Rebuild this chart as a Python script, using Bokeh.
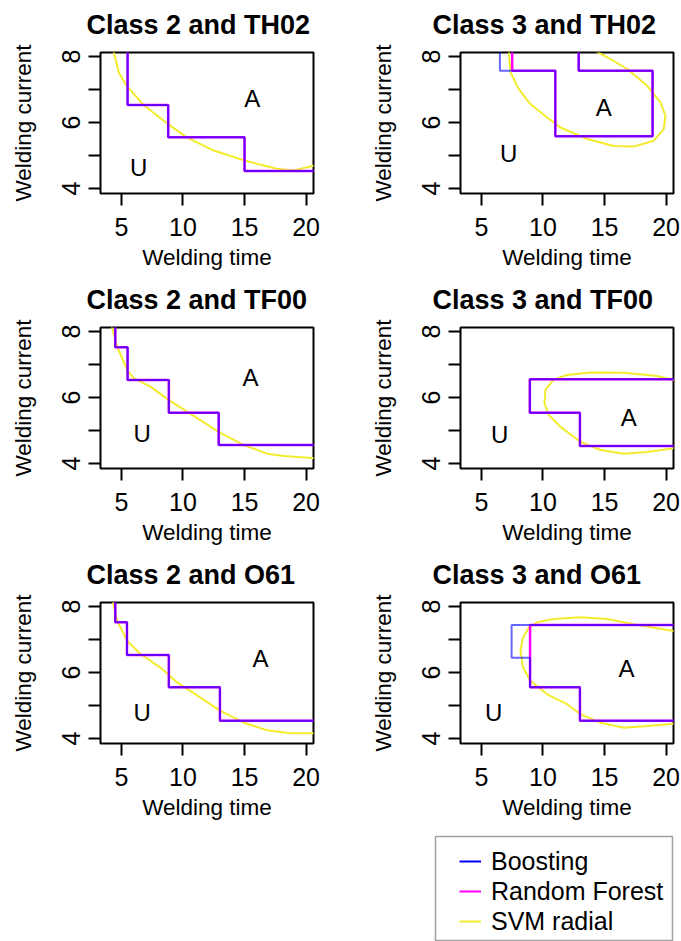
from bokeh.plotting import figure
from bokeh.models import Range1d, FixedTicker, Legend, LegendItem, Title
from bokeh.layouts import column, row
from bokeh.embed import file_html
from bokeh.resources import INLINE
from bokeh.core.properties import value

FONT = "Liberation Sans"

# ---------------- data ----------------
titles = ["Class 2 and TH02", "Class 3 and TH02",
          "Class 2 and TF00", "Class 3 and TF00",
          "Class 2 and O61", "Class 3 and O61"]
x_ticks = [5, 10, 15, 20]
y_ticks = [4, 5, 6, 7, 8]
y_tick_labels = {4: "4", 5: "", 6: "6", 7: "", 8: "8"}
x_label = "Welding time"
y_label = "Welding current"
legend_labels = ["Boosting", "Random Forest", "SVM radial"]
x_limits = [3.3, 20.6]
y_limits = [3.85, 8.12]

# Panel 1: Class 2 and TH02
boost_x_1 = [5.5, 5.5, 8.8, 8.8, 15.0, 15.0, 21.0]
boost_y_1 = [8.3, 6.53, 6.53, 5.55, 5.55, 4.53, 4.53]
rf_x_1 = [5.5, 5.5, 8.8, 8.8, 15.0, 15.0, 21.0]
rf_y_1 = [8.3, 6.53, 6.53, 5.55, 5.55, 4.53, 4.53]
svm_x_1 = [4.3, 4.37, 4.8, 5.45, 6.8, 8.8, 10.3, 12.5, 15.0, 17.6, 19.0, 20.6, 21.0]
svm_y_1 = [8.3, 8.14, 7.5, 7.1, 6.53, 5.95, 5.55, 5.15, 4.85, 4.6, 4.55, 4.69, 4.72]

# Panel 2: Class 3 and TH02
boost_x_2 = [6.5, 6.5, 11.0, 11.0, 18.9, 18.9, 12.9, 12.9]
boost_y_2 = [8.3, 7.57, 7.57, 5.58, 5.58, 7.57, 7.57, 8.3]
rf_x_2 = [7.5, 7.5, 11.0, 11.0, 18.9, 18.9, 12.9, 12.9]
rf_y_2 = [8.3, 7.57, 7.57, 5.58, 5.58, 7.57, 7.57, 8.3]
svm_x_2 = [7.15, 7.22, 7.36, 8.03, 8.98, 10.34, 11.42, 13.59, 15.75, 17.37, 19.0,
           19.81, 19.95, 19.54, 18.46, 16.84, 15.48, 14.4, 14.1]
svm_y_2 = [8.3, 8.14, 7.52, 7.01, 6.56, 6.15, 5.85, 5.5, 5.29, 5.27, 5.45,
           5.8, 6.2, 6.61, 7.11, 7.62, 7.92, 8.14, 8.3]

# Panel 3: Class 2 and TF00
boost_x_3 = [4.5, 4.5, 5.5, 5.5, 8.85, 8.85, 12.9, 12.9, 21.0]
boost_y_3 = [8.3, 7.52, 7.52, 6.53, 6.53, 5.54, 5.54, 4.56, 4.56]
rf_x_3 = [4.5, 4.5, 5.5, 5.5, 8.85, 8.85, 12.9, 12.9, 21.0]
rf_y_3 = [8.3, 7.52, 7.52, 6.53, 6.53, 5.54, 5.54, 4.56, 4.56]
svm_x_3 = [4.15, 4.24, 4.65, 5.46, 6.0, 7.36, 8.84, 10.33, 12.9, 14.94, 16.84, 18.19, 20.49, 21.0]
svm_y_3 = [8.3, 8.12, 7.54, 6.84, 6.58, 6.33, 5.92, 5.57, 4.96, 4.56, 4.30, 4.23, 4.17, 4.16]

# Panel 4: Class 3 and TF00
boost_x_4 = [21.0, 8.93, 8.93, 13.0, 13.0, 21.0]
boost_y_4 = [6.55, 6.55, 5.54, 5.54, 4.53, 4.53]
rf_x_4 = [21.0, 8.93, 8.93, 13.0, 13.0, 21.0]
rf_y_4 = [6.55, 6.55, 5.54, 5.54, 4.53, 4.53]
svm_x_4 = [21.0, 20.62, 19.27, 16.56, 13.85, 11.96, 10.88, 10.2, 10.12, 10.47, 11.42,
           13.04, 14.67, 16.56, 18.46, 20.62, 21.0]
svm_y_4 = [6.5, 6.53, 6.65, 6.75, 6.76, 6.68, 6.55, 6.23, 5.82, 5.47, 5.11,
           4.66, 4.41, 4.30, 4.35, 4.46, 4.47]

# Panel 5: Class 2 and O61
boost_x_5 = [4.5, 4.5, 5.45, 5.45, 8.85, 8.85, 13.0, 13.0, 21.0]
boost_y_5 = [8.3, 7.52, 7.52, 6.53, 6.53, 5.55, 5.55, 4.54, 4.54]
rf_x_5 = [4.5, 4.5, 5.45, 5.45, 8.85, 8.85, 13.0, 13.0, 21.0]
rf_y_5 = [8.3, 7.52, 7.52, 6.53, 6.53, 5.55, 5.55, 4.54, 4.54]
svm_x_5 = [4.25, 4.32, 4.65, 5.46, 6.54, 8.17, 9.52, 11.42, 13.04, 14.94, 16.83, 18.73, 20.49, 21.0]
svm_y_5 = [8.3, 8.12, 7.57, 6.96, 6.56, 6.15, 5.70, 5.24, 4.84, 4.48, 4.25, 4.16, 4.16, 4.16]

# Panel 6: Class 3 and O61
boost_x_6 = [21.0, 7.45, 7.45, 8.95, 8.95, 13.0, 13.0, 21.0]
boost_y_6 = [7.44, 7.44, 6.45, 6.45, 5.55, 5.55, 4.54, 4.54]
rf_x_6 = [21.0, 8.95, 8.95, 13.0, 13.0, 21.0]
rf_y_6 = [7.44, 7.44, 5.55, 5.55, 4.54, 4.54]
svm_x_6 = [21.0, 20.62, 19.27, 17.37, 15.21, 13.04, 10.88, 9.52, 8.85, 8.38, 8.17, 8.38,
           8.98, 10.33, 11.96, 13.04, 14.67, 16.56, 18.46, 20.62, 21.0]
svm_y_6 = [7.24, 7.26, 7.34, 7.46, 7.62, 7.67, 7.62, 7.52, 7.36, 7.06, 6.66, 6.15,
           5.75, 5.34, 5.04, 4.74, 4.48, 4.33, 4.38, 4.45, 4.45]

# Region labels (acceptable / unacceptable)
region_text = ["A", "U"]
a_x = [15.62, 14.94, 15.48, 16.97, 16.29, 16.78]
a_y = [6.74, 6.45, 6.61, 5.40, 6.43, 6.13]
u_x = [6.41, 7.22, 6.68, 6.49, 6.68, 6.0]
u_y = [4.64, 5.06, 4.91, 4.89, 4.79, 4.79]

# ---------------- styles ----------------
BLUE = "#0000FF"
MAGENTA = "#FF00FF"
YELLOW = "#F3EC2E"

boost_x = [boost_x_1, boost_x_2, boost_x_3, boost_x_4, boost_x_5, boost_x_6]
boost_y = [boost_y_1, boost_y_2, boost_y_3, boost_y_4, boost_y_5, boost_y_6]
rf_x = [rf_x_1, rf_x_2, rf_x_3, rf_x_4, rf_x_5, rf_x_6]
rf_y = [rf_y_1, rf_y_2, rf_y_3, rf_y_4, rf_y_5, rf_y_6]
svm_x = [svm_x_1, svm_x_2, svm_x_3, svm_x_4, svm_x_5, svm_x_6]
svm_y = [svm_y_1, svm_y_2, svm_y_3, svm_y_4, svm_y_5, svm_y_6]


def make_panel(i):
    left_col = (i % 2 == 0)
    p = figure(
        width=340 if left_col else 341, height=275,
        x_range=Range1d(*x_limits), y_range=Range1d(*y_limits),
        output_backend="svg", toolbar_location=None,
        min_border_left=100 if left_col else 120,
        min_border_right=27 if left_col else 8,
        min_border_top=52, min_border_bottom=82,
        background_fill_color="white", border_fill_color="white",
    )
    p.title.text = ""
    # spacer between frame and title, then the title itself
    p.add_layout(Title(text=" ", text_font_size="1px", standoff=10), "above")
    p.add_layout(Title(text=titles[i], align="left", offset=-14 if left_col else -28,
                       text_font=FONT, text_font_size="27px", text_font_style="bold",
                       text_color="black", standoff=0), "above")

    p.grid.visible = False
    p.outline_line_color = "black"
    p.outline_line_width = 2

    for ax in (p.xaxis[0], p.yaxis[0]):
        ax.axis_line_color = None
        ax.major_tick_out = 12
        ax.major_tick_in = 0
        ax.major_tick_line_width = 2
        ax.major_tick_line_color = "black"
        ax.minor_tick_line_color = None
        ax.major_label_text_font = FONT
        ax.major_label_text_font_size = "25px"
        ax.major_label_text_color = "black"
        ax.axis_label_text_font = FONT
        ax.axis_label_text_font_size = "22.5px"
        ax.axis_label_text_font_style = "normal"
        ax.axis_label_text_color = "black"

    p.xaxis[0].ticker = FixedTicker(ticks=x_ticks)
    p.xaxis[0].major_label_standoff = 12
    p.xaxis[0].axis_label = x_label
    p.xaxis[0].axis_label_standoff = 6
    p.yaxis[0].ticker = FixedTicker(ticks=y_ticks)
    p.yaxis[0].major_label_overrides = y_tick_labels
    p.yaxis[0].major_label_orientation = "parallel"
    p.yaxis[0].major_label_standoff = 8
    p.yaxis[0].axis_label = y_label
    p.yaxis[0].axis_label_standoff = 24

    p.line(svm_x[i], svm_y[i], line_color=YELLOW, line_width=2)
    p.line(rf_x[i], rf_y[i], line_color=MAGENTA, line_width=2.5)
    p.line(boost_x[i], boost_y[i], line_color=BLUE, line_width=2, line_alpha=0.6)

    p.text(x=[a_x[i], u_x[i]], y=[a_y[i], u_y[i]], text=region_text,
           text_font=value(FONT), text_font_size=value("24px"),
           text_align="center", text_baseline="middle", text_color="black")
    return p


panels = [make_panel(i) for i in range(6)]

# legend panel: the sample renderers hold panel-1 data, which lies outside
# this panel's 0..1 ranges, so only their legend swatches are visible
leg = figure(width=681, height=116, x_range=Range1d(0, 1), y_range=Range1d(0, 1),
             output_backend="svg", toolbar_location=None,
             x_axis_type=None, y_axis_type=None,
             min_border_left=435, min_border_right=9, min_border_top=11, min_border_bottom=0,
             background_fill_color="white", border_fill_color="white")
leg.grid.visible = False
leg.outline_line_color = "#A0A0A0"
leg.outline_line_width = 1.5
r_b = leg.line(boost_x_1, boost_y_1, line_color=BLUE, line_width=2)
r_r = leg.line(rf_x_1, rf_y_1, line_color=MAGENTA, line_width=2)
r_s = leg.line(svm_x_1, svm_y_1, line_color=YELLOW, line_width=2)
legend = Legend(
    items=[LegendItem(label=legend_labels[0], renderers=[r_b]),
           LegendItem(label=legend_labels[1], renderers=[r_r]),
           LegendItem(label=legend_labels[2], renderers=[r_s])],
    location=(24, 5), padding=0, margin=0, spacing=0,
    border_line_color=None, background_fill_alpha=0,
    glyph_width=22, glyph_height=30, label_height=30, label_standoff=10,
    label_text_font=FONT, label_text_font_size="25px", label_text_color="black",
)
leg.add_layout(legend, "center")

layout = column(row(panels[0], panels[1]),
                row(panels[2], panels[3]),
                row(panels[4], panels[5]),
                leg)

open("out.html", "w").write(file_html(layout, INLINE))
